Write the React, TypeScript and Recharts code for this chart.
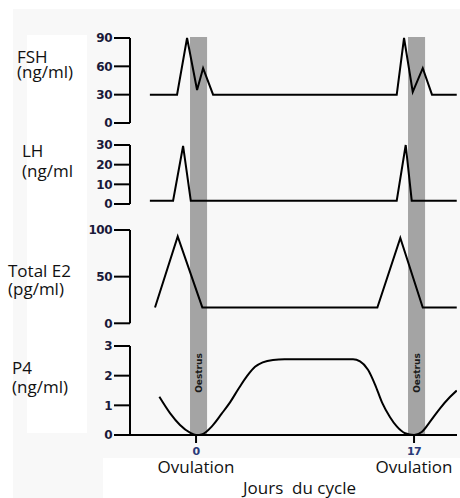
import { LineChart, Line, XAxis, YAxis, ReferenceArea } from "recharts";

// x scale (days of cycle)
const DAY_MIN = -5.15;
const DAY_MAX = 20.35;
const ovulationDays = [0, 17];
const oestrusStart = -0.47; // relative to ovulation
const oestrusEnd = 0.86;

const fshDays = [-3.6, -1.48, -0.7, 0.08, 0.55, 1.33, 15.65, 16.22, 16.9, 17.68, 18.4, 20.33];
const fshValues = [30, 30, 90, 35, 58, 30, 30, 90, 33, 58, 30, 30];

const lhDays = [-3.6, -1.79, -1.01, -0.41, 15.65, 16.35, 16.82, 20.33];
const lhValues = [1.7, 1.7, 29.5, 1.7, 1.7, 30, 1.7, 1.7];

const e2Days = [-3.2, -1.43, 0.49, 14.14, 15.93, 17.68, 20.33];
const e2Values = [17, 93, 17, 17, 91.5, 17, 17];

const p4Days = [
  -2.86, -2.03, -1.25, -0.47, 0, 0.5, 1.25, 2.0, 2.65, 3.3, 4.0, 4.6, 5.2, 6.0, 6.9,
  12.24, 12.79, 13.41, 13.96, 14.5, 15.13, 15.67, 16.3, 17, 17.6, 18.25, 19.03, 19.8, 20.33,
];
const p4Values = [
  1.29, 0.74, 0.34, 0.08, 0, 0.03, 0.3, 0.72, 1.1, 1.55, 2.0, 2.3, 2.45, 2.53, 2.55,
  2.55, 2.48, 2.2, 1.7, 1.1, 0.6, 0.28, 0.06, 0, 0.1, 0.45, 0.9, 1.28, 1.5,
];

const fshTicks = [0, 30, 60, 90];
const lhTicks = [0, 10, 20, 30];
const e2Ticks = [0, 50, 100];
const p4Ticks = [0, 1, 2, 3];

const zip = (days: number[], values: number[]) => days.map((day, i) => ({ day, value: values[i] }));

const W = 460;
const H = 498;
const AXIS_W = 130;
const RIGHT = 3;
const LABEL_FONT = "'Open Sans', sans-serif";

const tickStyle = {
  fill: "#1a1a3a",
  fontSize: 12,
  fontWeight: 700,
  fontFamily: "'DejaVu Sans', sans-serif",
  letterSpacing: -0.5,
};

interface Panel {
  top: number;
  height: number;
  mTop: number;
  mBottom: number;
  data: { day: number; value: number }[];
  domain: [number, number];
  ticks: number[];
}

const panels: Panel[] = [
  { top: 30, height: 100, mTop: 8, mBottom: 7, data: zip(fshDays, fshValues), domain: [0, 90], ticks: fshTicks },
  { top: 137, height: 75, mTop: 8, mBottom: 8, data: zip(lhDays, lhValues), domain: [0, 30], ticks: lhTicks },
  { top: 222, height: 110, mTop: 8, mBottom: 8.7, data: zip(e2Days, e2Values), domain: [0, 100], ticks: e2Ticks },
];

const axisStroke = { stroke: "#000", strokeWidth: 2 };

const OvulationTick = (props: any) => {
  const { x, y, payload } = props;
  return (
    <g>
      <text x={x} y={y + 10} textAnchor="middle" fill="#2a3a78" fontSize={11} fontWeight={700} fontFamily="'DejaVu Sans', sans-serif" letterSpacing={-0.5}>
        {payload.value}
      </text>
      <text x={x} y={y + 28} textAnchor="middle" fill="#111" fontSize={17} fontFamily={LABEL_FONT}>
        Ovulation
      </text>
    </g>
  );
};

const renderOestrus = (props: any) => {
  const vb = props.viewBox;
  const cx = vb.x + vb.width / 2;
  const cy = vb.y + vb.height - 62;
  return (
    <text
      x={cx}
      y={cy}
      transform={`rotate(-90 ${cx} ${cy})`}
      textAnchor="middle"
      dominantBaseline="central"
      fill="#1a1a1a"
      fontSize={9}
      fontWeight={700}
      fontFamily="'DejaVu Sans', sans-serif"
    >
      Oestrus
    </text>
  );
};

const sideLabels = [
  { x: 17, y: 62.5, text: "FSH" },
  { x: 17, y: 78, text: "(ng/ml)" },
  { x: 22, y: 157, text: "LH" },
  { x: 22, y: 177, text: "(ng/ml" },
  { x: 8, y: 277, text: "Total E2" },
  { x: 8, y: 295, text: "(pg/ml)" },
  { x: 12, y: 374, text: "P4" },
  { x: 12, y: 393, text: "(ng/ml)" },
];

const abs = (top: number) => ({ position: "absolute" as const, left: 0, top });

export default function App() {
  return (
    <div style={{ position: "absolute", left: 0, top: 0, width: W, height: H, background: "#fff" }}>
      <svg width={W} height={H} style={abs(0)}>
        <rect x={13} y={9} width={W - 13} height={H - 9} fill="#f8f8f8" />
        <rect x={27} y={35} width={60} height={398} fill="#fff" />
        <rect x={103} y={458} width={W - 103} height={H - 458} fill="#fff" />
      </svg>

      {/* oestrus bands spanning all panels */}
      <div style={abs(0)}>
        <LineChart
          width={W}
          height={H}
          data={[{ day: DAY_MIN, value: 0 }, { day: DAY_MAX, value: 1 }]}
          margin={{ top: 37, right: RIGHT, bottom: 63, left: AXIS_W }}
        >
          <XAxis type="number" dataKey="day" domain={[DAY_MIN, DAY_MAX]} hide allowDataOverflow />
          <YAxis type="number" domain={[0, 1]} hide />
          <Line dataKey="value" stroke="none" dot={false} isAnimationActive={false} />
          {ovulationDays.map((d) => (
            <ReferenceArea
              key={d}
              x1={d + oestrusStart}
              x2={d + oestrusEnd}
              y1={0}
              y2={1}
              fill="#a4a4a4"
              fillOpacity={1}
              stroke="none"
              label={renderOestrus}
            />
          ))}
        </LineChart>
      </div>

      {panels.map((p, i) => (
        <div key={i} style={abs(p.top)}>
          <LineChart width={W} height={p.height} data={p.data} margin={{ top: p.mTop, right: RIGHT, bottom: p.mBottom, left: 0 }}>
            <XAxis type="number" dataKey="day" domain={[DAY_MIN, DAY_MAX]} hide allowDataOverflow />
            <YAxis
              width={AXIS_W}
              domain={p.domain}
              ticks={p.ticks}
              interval={0}
              tickSize={16}
              tickMargin={2}
              axisLine={axisStroke}
              tickLine={axisStroke}
              tick={tickStyle}
            />
            <Line type="linear" dataKey="value" stroke="#000" strokeWidth={2} dot={false} isAnimationActive={false} />
          </LineChart>
        </div>
      ))}

      <div style={abs(338)}>
        <LineChart width={W} height={H - 338} data={zip(p4Days, p4Values)} margin={{ top: 8, right: RIGHT, bottom: 0, left: 0 }}>
          <XAxis
            type="number"
            dataKey="day"
            domain={[DAY_MIN, DAY_MAX]}
            allowDataOverflow
            ticks={ovulationDays}
            interval={0}
            height={63}
            tickSize={8}
            tickMargin={2}
            axisLine={axisStroke}
            tickLine={axisStroke}
            tick={OvulationTick}
            label={{
              value: "Jours\u00a0 du cycle",
              position: "insideBottom",
              offset: 4,
              dx: 6,
              fill: "#111",
              fontSize: 17,
              fontFamily: LABEL_FONT,
            }}
          />
          <YAxis
            width={AXIS_W}
            domain={[0, 3]}
            ticks={p4Ticks}
            interval={0}
            tickSize={16}
            tickMargin={2}
            axisLine={axisStroke}
            tickLine={axisStroke}
            tick={tickStyle}
          />
          <Line type="monotone" dataKey="value" stroke="#000" strokeWidth={2} dot={false} isAnimationActive={false} />
        </LineChart>
      </div>

      <svg width={W} height={H} style={{ ...abs(0), pointerEvents: "none" }}>
        {sideLabels.map((l, i) => (
          <text key={i} x={l.x} y={l.y} fill="#111" fontSize={17} fontFamily={LABEL_FONT}>
            {l.text}
          </text>
        ))}
      </svg>
    </div>
  );
}
